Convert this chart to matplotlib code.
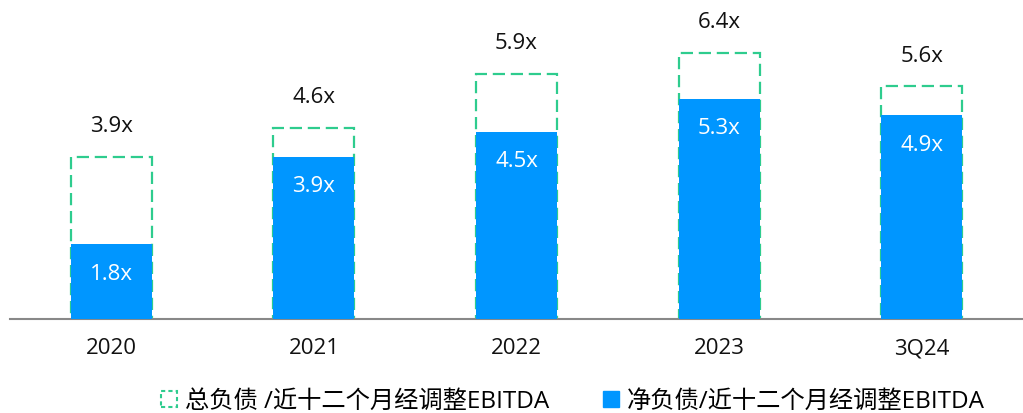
import matplotlib
matplotlib.use("Agg")
import matplotlib.pyplot as plt
from matplotlib.patches import Patch

plt.rcParams['font.family'] = ['Open Sans', 'Noto Sans CJK SC', 'DejaVu Sans']

categories = ["2020", "2021", "2022", "2023", "3Q24"]
total_debt = [3.9, 4.6, 5.9, 6.4, 5.6]
net_debt = [1.8, 3.9, 4.5, 5.3, 4.9]
legend_total = "总负债 /近十二个月经调整EBITDA"
legend_net = "净负债/近十二个月经调整EBITDA"

blue = "#0096FF"
green = "#2ECC8E"
dash = (0, (5.5, 2.6))

fig = plt.figure(figsize=(10.23, 4.13), dpi=100)
ax = fig.add_axes([10/1023, (413-319)/413, 1013/1023, 319/413])

x = list(range(len(categories)))
w = 0.4
ax.bar(x, total_debt, width=w, facecolor="none", edgecolor=green,
       linewidth=1.6, linestyle=dash, zorder=2)
ax.bar(x, net_debt, width=w, color=blue, zorder=3)

for xi, t, n in zip(x, total_debt, net_debt):
    ax.annotate(f"{t}x", (xi, t), xytext=(0, 21.6), textcoords="offset points",
                ha="center", va="center", fontsize=16, color="#111111")
    ax.annotate(f"{n}x", (xi, n), xytext=(0, -21.6), textcoords="offset points",
                ha="center", va="center", fontsize=16, color="white", zorder=4)

ax.set_xlim(-0.5, len(categories) - 0.5)
ax.set_ylim(0, 319/41.6)
ax.set_xticks(x)
ax.set_xticklabels(categories, fontsize=16, color="#111111")
ax.tick_params(axis="x", length=0, pad=14)
ax.set_yticks([])
for s in ["top", "right", "left"]:
    ax.spines[s].set_visible(False)
ax.spines["bottom"].set_color("#888888")
ax.spines["bottom"].set_linewidth(1.5)

handles = [
    Patch(facecolor="none", edgecolor=green, linestyle=(0, (2, 1.5)), linewidth=1.5, label=legend_total),
    Patch(facecolor=blue, edgecolor=blue, label=legend_net),
]
fig.legend(handles=handles, loc="center", bbox_to_anchor=(0.56, 0.028),
           ncol=2, frameon=False, fontsize=17.5, handlelength=0.65, handleheight=0.65,
           handletextpad=0.35, columnspacing=2.2)

fig.savefig("out.png", dpi=100)
